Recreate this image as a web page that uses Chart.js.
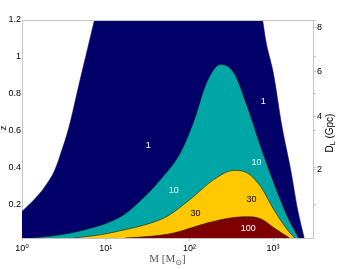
<!DOCTYPE html>
<html>
<head>
<meta charset="utf-8">
<script src="https://cdn.jsdelivr.net/npm/chart.js@4/dist/chart.umd.min.js"></script>
<style>
  body { margin: 0; background: #fff; }
  canvas { display: block; }
</style>
</head>
<body>
<canvas id="horizonChart" width="357" height="269"></canvas>
<script>
// contour boundaries z(M) for SNR = 1, 10, 30, 100
const mass1 = [1, 1.43, 1.88, 2.48, 3.01, 3.58, 4.96, 7.34, 10.4, 20, 100, 400, 568, 749, 813, 1014, 1264, 1621, 1965, 2350];
const z1 = [0.164, 0.233, 0.298, 0.39, 0.498, 0.607, 0.878, 1.199, 1.49, 2.2, 2.8, 2.2, 1.45, 1.2, 1.094, 0.904, 0.633, 0.39, 0.173, 0.02];

const mass10 = [1.354, 2.85, 5.68, 11.3, 17.1, 25.9, 44.9, 78, 112.6, 162.9, 235, 339, 491, 709, 1022, 1480, 2021];
const z10 = [0.02, 0.037, 0.065, 0.108, 0.151, 0.221, 0.335, 0.481, 0.65, 0.867, 0.959, 0.915, 0.733, 0.516, 0.318, 0.137, 0.02];

const mass30 = [4.08, 8.59, 17.1, 29.7, 54.1, 112.6, 195.4, 339, 491, 709, 1022, 1480, 1809];
const z30 = [0.02, 0.037, 0.065, 0.092, 0.137, 0.245, 0.336, 0.386, 0.372, 0.299, 0.173, 0.065, 0.02];

const mass100 = [17.1, 34.1, 64.9, 162.9, 339, 538, 749, 1022, 1336, 1576];
const z100 = [0.02, 0.029, 0.047, 0.101, 0.131, 0.135, 0.119, 0.075, 0.04, 0.02];

// contour labels
const labelText = ['1', '1', '10', '10', '30', '30', '100'];
const labelMass = [32.3, 763, 64.9, 634, 118, 553, 505];
const labelZ = [0.52, 0.76, 0.276, 0.429, 0.155, 0.227, 0.07];
const labelColor = ['#ffffff', '#ffffff', '#e8ffff', '#e8ffff', '#000000', '#000000', '#ffffff'];

// axes
const massTicks = [1, 10, 100, 1000];
const zTicks = [0.2, 0.4, 0.6, 0.8, 1, 1.2];
const dlTicks = [2, 4, 6, 8];          // Gpc
const dlTickZ = [0.39, 0.676, 0.921, 1.159];

const sup = { '0': '\u2070', '1': '\u00b9', '2': '\u00b2', '3': '\u00b3' };
const tickFont = { family: 'Liberation Sans, Arial, DejaVu Sans, sans-serif', size: 9 };
const axisGray = '#c4c4c4';

function toPoints(ms, zs) {
	return ms.map((m, i) => ({ x: m, y: zs[i] }));
}

function band(ms, zs, color, edge, order) {
	return {
		data: toPoints(ms, zs),
		backgroundColor: color,
		borderColor: edge,
		borderWidth: 0.6,
		pointRadius: 0,
		fill: 'start',
		cubicInterpolationMode: 'monotone',
		order: order
	};
}

const extras = {
	id: 'extras',
	afterDatasetsDraw(chart) {
		const ctx = chart.ctx;
		const a = chart.chartArea;
		const sx = chart.scales.x, sy = chart.scales.y;

		// contour labels
		ctx.save();
		ctx.font = '9px Liberation Sans, Arial, sans-serif';
		ctx.textAlign = 'center';
		ctx.textBaseline = 'middle';
		labelText.forEach((t, i) => {
			ctx.fillStyle = labelColor[i];
			ctx.fillText(t, sx.getPixelForValue(labelMass[i]), sy.getPixelForValue(labelZ[i]));
		});
		ctx.restore();

		// top edge of the box
		ctx.save();
		ctx.strokeStyle = axisGray;
		ctx.lineWidth = 1;
		ctx.beginPath();
		ctx.moveTo(a.left, a.top + 0.5);
		ctx.lineTo(a.right, a.top + 0.5);
		ctx.stroke();
		ctx.restore();
	},
	afterDraw(chart) {
		const ctx = chart.ctx;
		const a = chart.chartArea;

		// left title: z
		ctx.save();
		ctx.fillStyle = '#000';
		ctx.font = '9px Liberation Sans, Arial, sans-serif';
		ctx.translate(4, 128);
		ctx.rotate(-Math.PI / 2);
		ctx.textAlign = 'center';
		ctx.textBaseline = 'middle';
		ctx.fillText('z', 0, 0);
		ctx.restore();

		// right title: D_L (Gpc)
		ctx.save();
		ctx.fillStyle = '#000';
		ctx.translate(a.right + 17, 133);
		ctx.rotate(-Math.PI / 2);
		ctx.textBaseline = 'middle';
		const big = '10px Liberation Sans, Arial, sans-serif';
		const small = '7px Liberation Sans, Arial, sans-serif';
		ctx.font = big;
		const wD = ctx.measureText('D').width;
		const wRest = ctx.measureText(' (Gpc)').width;
		ctx.font = small;
		const wL = ctx.measureText('L').width;
		let x = -(wD + wL + wRest) / 2;
		ctx.font = big;
		ctx.fillText('D', x, 0);
		x += wD;
		ctx.font = small;
		ctx.fillText('L', x, 3);
		x += wL;
		ctx.font = big;
		ctx.fillText(' (Gpc)', x, 0);
		ctx.restore();

		// bottom title: M [M_sun]
		ctx.save();
		ctx.fillStyle = '#555';
		ctx.textBaseline = 'alphabetic';
		const serif = '11px Liberation Serif, Times New Roman, serif';
		const serifSmall = '8px DejaVu Sans, sans-serif';
		ctx.font = serif;
		const w1 = ctx.measureText('M [M').width;
		const w3 = ctx.measureText(']').width;
		ctx.font = serifSmall;
		const w2 = ctx.measureText('\u2299').width;
		let bx = 167.5 - (w1 + w2 + w3) / 2;
		ctx.font = serif;
		ctx.fillText('M [M', bx, 262);
		bx += w1;
		ctx.font = serifSmall;
		ctx.fillText('\u2299', bx, 265);
		bx += w2;
		ctx.font = serif;
		ctx.fillText(']', bx, 262);
		ctx.restore();
	}
};

const ctx = document.getElementById('horizonChart').getContext('2d');
const chart = new Chart(ctx, {
	type: 'line',
	data: {
		datasets: [
			band(mass100, z100, '#7e0000', '#1a1a1a', 1),
			band(mass30, z30, '#ffc800', '#1a1a1a', 2),
			band(mass10, z10, '#00a6a6', '#1a1a1a', 3),
			band(mass1, z1, '#000068', '#000068', 4)
		]
	},
	options: {
		responsive: false,
		animation: false,
		devicePixelRatio: 1,
		layout: { padding: { top: 20, left: 0, right: 0, bottom: 0 } },
		plugins: {
			legend: { display: false },
			tooltip: { enabled: false }
		},
		scales: {
			x: {
				type: 'logarithmic',
				position: 'bottom',
				min: 1,
				max: 3000,
				grid: { drawOnChartArea: false, tickLength: 3, color: axisGray },
				border: { color: axisGray },
				ticks: {
					font: tickFont,
					color: '#000',
					padding: 2,
					maxRotation: 0,
					autoSkip: false,
					callback: v => '10' + sup[String(Math.round(Math.log10(v)))]
				},
				afterBuildTicks: s => { s.ticks = massTicks.map(v => ({ value: v })); },
				afterFit: s => { s.height = 31; }
			},
			y: {
				type: 'linear',
				position: 'left',
				min: 0.02,
				max: 1.2,
				grid: { drawOnChartArea: false, drawTicks: false, color: axisGray },
				border: { color: axisGray },
				ticks: { font: tickFont, color: '#000', padding: 1, callback: v => String(v) },
				afterBuildTicks: s => { s.ticks = zTicks.map(v => ({ value: v })); },
				afterFit: s => { s.width = 22; }
			},
			y2: {
				type: 'linear',
				position: 'right',
				min: 0.02,
				max: 1.2,
				grid: { drawOnChartArea: false, tickLength: 3, color: axisGray },
				border: { color: axisGray },
				ticks: {
					font: tickFont,
					color: '#000',
					padding: 1,
					autoSkip: false,
					callback: v => {
						const i = dlTickZ.indexOf(v);
						return i >= 0 ? String(dlTicks[i]) : '';
					}
				},
				afterBuildTicks: s => {
					s.ticks = zTicks.concat(dlTickZ).map(v => ({ value: v }));
				},
				afterFit: s => { s.width = 44; }
			}
		}
	},
	plugins: [extras]
});
</script>
</body>
</html>
